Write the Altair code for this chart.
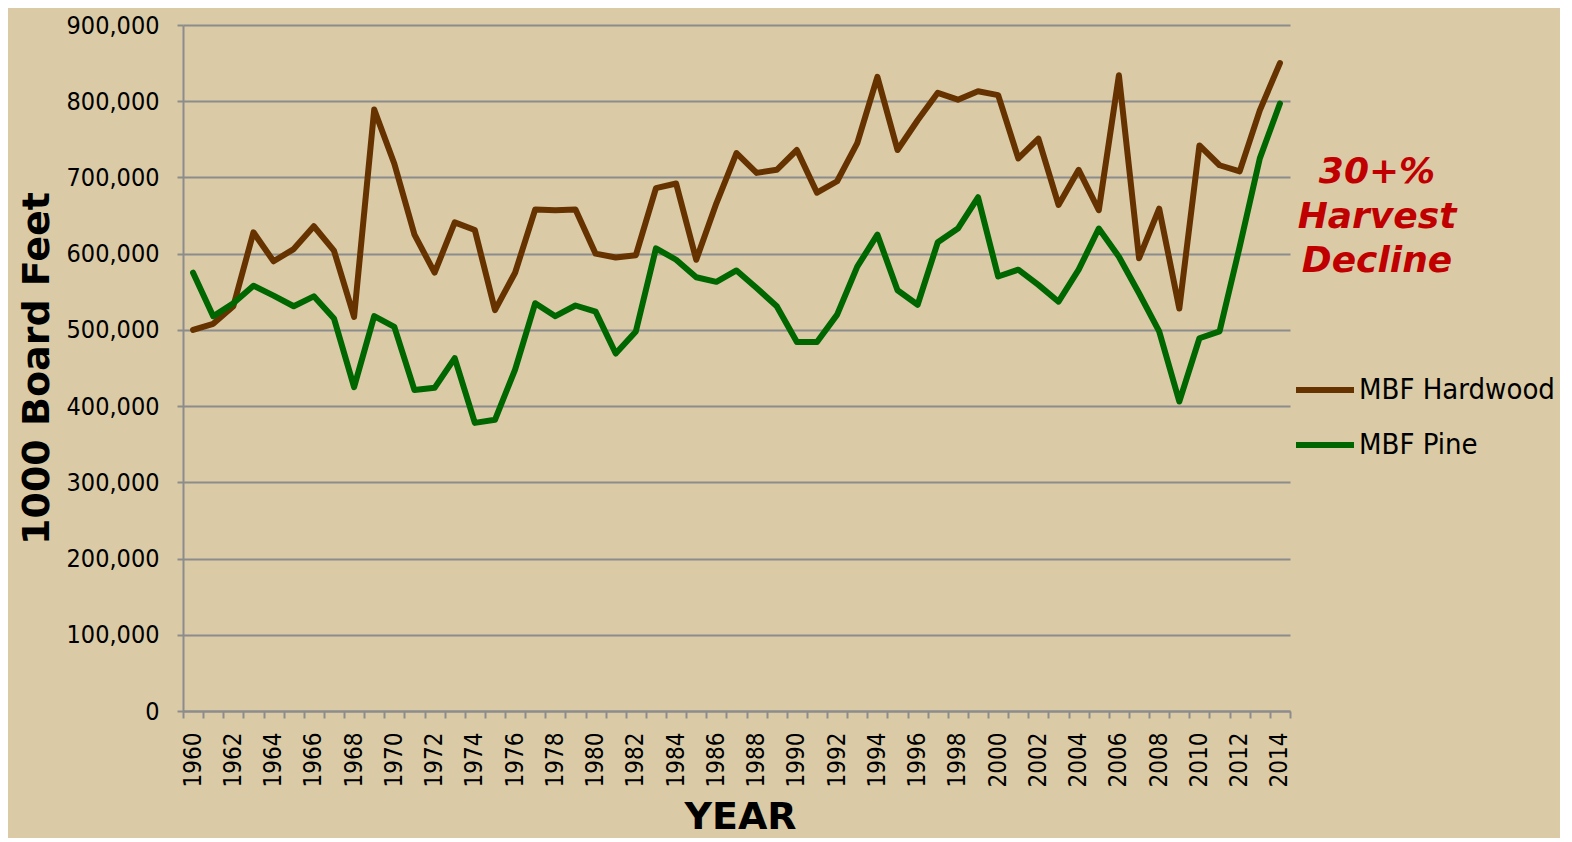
import altair as alt
import pandas as pd

years = list(range(1960, 2015))
hardwood = [500000, 508000, 531000, 628000, 590000, 606000, 636000, 604000, 517000, 789000,
            718000, 625000, 575000, 641000, 631000, 526000, 575000, 658000, 657000, 658000,
            600000, 595000, 598000, 686000, 692000, 592000, 666000, 732000, 706000, 710000,
            736000, 680000, 695000, 745000, 832000, 736000, 775000, 811000, 802000, 813000,
            808000, 725000, 751000, 664000, 710000, 657000, 834000, 594000, 659000, 528000,
            742000, 716000, 708000, 788000, 850000]
pine = [575000, 518000, 535000, 558000, 545000, 531000, 544000, 515000, 425000, 518000,
        504000, 421000, 424000, 463000, 378000, 382000, 448000, 535000, 518000, 532000,
        524000, 469000, 498000, 607000, 592000, 569000, 563000, 578000, 555000, 531000,
        484000, 484000, 520000, 583000, 625000, 552000, 533000, 615000, 633000, 674000,
        570000, 579000, 559000, 537000, 579000, 633000, 596000, 548000, 498000, 406000,
        489000, 498000, 609000, 725000, 797000]
series_names = ["MBF Hardwood", "MBF Pine"]
series_colors = ["#663300", "#006600"]
y_ticks = list(range(0, 900001, 100000))
annotation = ["30+%\nHarvest\nDecline"]

df = pd.DataFrame({
    "year": years * 2,
    "value": hardwood + pine,
    "series": [series_names[0]] * len(years) + [series_names[1]] * len(years),
})

TICK_FONT = "DejaVu Sans Condensed, Liberation Sans, sans-serif"
TITLE_FONT = "DejaVu Sans"
GRID = "#8c8c8c"

lines = alt.Chart(df).mark_line(strokeWidth=6, strokeJoin="round", strokeCap="round").encode(
    x=alt.X("year:O",
            scale=alt.Scale(type="band", paddingInner=0, paddingOuter=0),
            bandPosition=0.5,
            axis=alt.Axis(title="YEAR", tickBand="extent", labelAngle=270,
                          labelAlign="right", labelBaseline="middle",
                          labelExpr="datum.value % 2 == 0 ? datum.label : ''",
                          labelFont=TICK_FONT, labelFontSize=24, labelColor="#000000",
                          tickSize=7, labelPadding=14, tickColor=GRID, tickWidth=2,
                          domainColor=GRID, domainWidth=2, grid=False,
                          titleX=557, titleY=117, titleAlign="center",
                          titleBaseline="alphabetic")),
    y=alt.Y("value:Q",
            scale=alt.Scale(domain=[0, 900000], nice=False),
            axis=alt.Axis(title="1000 Board Feet", values=y_ticks, format=",.0f",
                          labelFont=TICK_FONT, labelFontSize=25, labelColor="#000000",
                          tickSize=6, labelPadding=18, tickColor=GRID, tickWidth=2,
                          domainColor=GRID, domainWidth=2,
                          grid=True, gridColor=GRID, gridWidth=2,
                          titleAngle=270, titleX=-135, titleY=343,
                          titleAlign="center", titleBaseline="alphabetic")),
    color=alt.Color("series:N",
                    scale=alt.Scale(domain=series_names, range=series_colors),
                    legend=alt.Legend(title=None, orient="none", legendX=1110, legendY=333,
                                      symbolType="stroke", symbolStrokeWidth=6,
                                      symbolSize=3364, labelFont=TICK_FONT,
                                      labelFontSize=29, labelColor="#000000",
                                      labelLimit=400, labelOffset=2, padding=0,
                                      rowPadding=8)),
)

note = alt.Chart(pd.DataFrame({"note": annotation})).mark_text(
    lineBreak="\n", font=TITLE_FONT, fontSize=36, fontWeight="bold", fontStyle="italic",
    color="#c00000", align="center", baseline="alphabetic", lineHeight=44.5,
).encode(text="note:N", x=alt.value(1194), y=alt.value(158))

chart = alt.layer(lines, note).properties(
    width=1107, height=686,
    padding={"left": 175, "top": 17, "right": 270, "bottom": 127},
    autosize=alt.AutoSizeParams(type="none"),
    background="#dacba6",
).configure_view(strokeWidth=0).configure_axis(
    titleFont=TITLE_FONT, titleFontSize=38, titleFontWeight="bold", titleColor="#000000",
)

chart.save("out.html", embed_options={"renderer": "svg", "actions": False})
